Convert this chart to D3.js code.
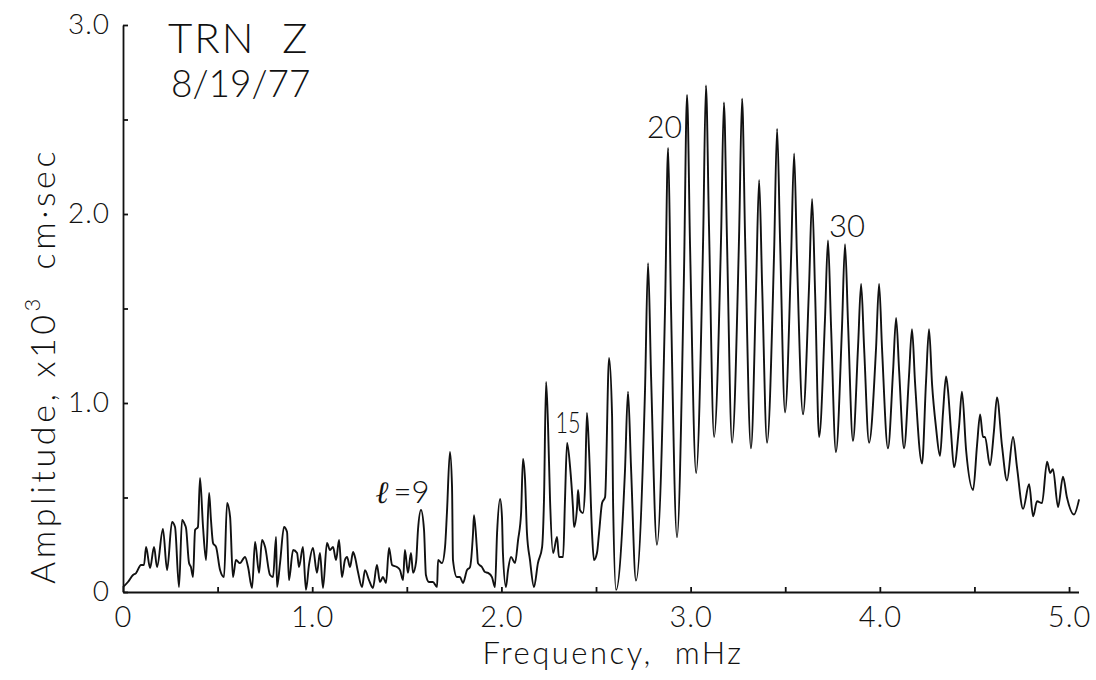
<!DOCTYPE html>
<html>
<head>
<meta charset="utf-8">
<script src="https://cdn.jsdelivr.net/npm/d3@7"></script>
<style>
  html, body { margin: 0; padding: 0; background: #fff; }
  svg { display: block; }
  text { font-family: Lato, "Open Sans", "DejaVu Sans", sans-serif; font-weight: 300; fill: #111; white-space: pre; }
</style>
</head>
<body>
<svg id="chart" width="1096" height="680"></svg>
<script>
// ---- data (frequency in mHz, amplitude in 10^3 cm·sec) ----
const freq = [
  0.000,0.026,0.053,0.069,0.095,0.111,0.122,0.143,0.164,0.180,0.211,0.233,0.259,0.275,0.296,0.312,0.328,0.333,
  0.349,0.359,0.370,0.381,0.396,0.407,0.423,0.439,0.455,0.465,0.476,0.492,0.513,0.534,0.550,0.566,0.581,0.597,
  0.618,0.645,0.661,0.682,0.698,0.719,0.735,0.751,0.777,0.793,0.809,0.814,0.830,0.851,0.867,0.877,0.899,0.920,
  0.930,0.951,0.967,0.983,1.004,1.025,1.041,1.057,1.078,1.094,1.110,1.126,1.142,1.157,1.173,1.184,1.200,1.216,
  1.226,1.242,1.263,1.279,1.300,1.321,1.342,1.358,1.374,1.390,1.406,1.422,1.448,1.464,1.480,1.490,1.506,1.522,
  1.533,1.549,1.559,1.575,1.591,1.601,1.617,1.638,1.660,1.665,1.686,1.702,1.712,1.728,1.739,1.744,1.765,1.781,
  1.797,1.818,1.834,1.850,1.855,1.871,1.876,1.897,1.913,1.929,1.950,1.966,1.977,1.993,2.003,2.008,2.024,2.035,
  2.051,2.072,2.088,2.104,2.114,2.125,2.135,2.151,2.172,2.193,2.215,2.225,2.236,2.246,2.257,2.273,2.294,2.304,
  2.326,2.336,2.347,2.363,2.378,2.384,2.400,2.405,2.415,2.431,2.442,2.452,2.463,2.479,2.489,2.505,2.516,2.532,
  2.548,2.569,2.585,2.590,2.606,
  2.653,2.669,2.685,2.711,2.759,2.775,2.791,2.822,2.865,2.881,2.896,2.928,2.965,2.981,2.997,3.029,
  3.066,3.081,3.097,3.124,3.161,3.176,3.192,3.219,3.256,3.272,3.288,3.319,3.346,3.362,3.378,3.404,
  3.441,3.457,3.473,3.499,3.531,3.547,3.562,3.594,3.626,3.642,3.658,3.679,3.710,3.726,3.742,3.768,
  3.800,3.816,3.832,3.858,3.885,3.901,3.917,3.943,3.980,3.996,4.012,4.043,4.070,4.086,4.102,4.128,
  4.154,4.170,4.186,4.223,4.244,4.260,4.276,4.297,4.318,4.334,4.350,4.360,4.376,4.392,4.419,4.434,
  4.456,4.493,4.514,4.530,4.545,4.556,4.582,4.603,4.619,4.646,4.672,4.704,4.725,4.757,4.789,4.810,
  4.831,4.857,4.884,4.900,4.915,4.942,4.968,4.989,5.026,5.053
];
const amplitude = [
  0.026,0.053,0.090,0.100,0.143,0.143,0.238,0.127,0.238,0.132,0.333,0.116,0.370,0.344,0.026,0.381,0.354,0.339,
  0.153,0.132,0.079,0.328,0.344,0.603,0.344,0.169,0.524,0.381,0.259,0.238,0.116,0.079,0.471,0.397,0.079,0.169,
  0.153,0.185,0.132,0.021,0.265,0.101,0.275,0.238,0.090,0.079,0.291,0.026,0.153,0.344,0.317,0.063,0.222,0.206,
  0.132,0.238,0.011,0.143,0.233,0.101,0.206,0.021,0.259,0.222,0.238,0.169,0.275,0.079,0.169,0.185,0.132,0.212,
  0.185,0.106,0.026,0.116,0.063,0.021,0.143,0.053,0.079,0.048,0.233,0.143,0.132,0.116,0.063,0.222,0.101,0.206,
  0.101,0.159,0.328,0.434,0.328,0.090,0.053,0.053,0.026,0.169,0.153,0.238,0.418,0.741,0.556,0.169,0.079,0.079,
  0.048,0.116,0.132,0.312,0.407,0.222,0.153,0.132,0.106,0.101,0.079,0.026,0.312,0.492,0.397,0.206,0.026,0.116,
  0.185,0.153,0.275,0.418,0.704,0.593,0.312,0.169,0.026,0.153,0.238,0.487,1.111,0.894,0.487,0.206,0.291,0.185,
  0.185,0.487,0.788,0.661,0.450,0.344,0.450,0.540,0.434,0.418,0.556,0.947,0.751,0.312,0.169,0.206,0.312,0.471,
  0.503,1.238,0.926,0.487,0.011,
  0.64,1.06,0.66,0.06,1.07,1.74,1.14,0.25,1.51,2.35,1.53,0.29,1.69,2.63,1.83,0.63,
  1.86,2.68,1.94,0.82,1.88,2.59,1.87,0.79,1.88,2.61,1.87,0.76,1.61,2.18,1.62,0.79,
  1.79,2.45,1.85,0.95,1.77,2.32,1.77,0.94,1.62,2.08,1.58,0.82,1.44,1.86,1.41,0.74,
  1.40,1.84,1.42,0.80,1.30,1.63,1.29,0.79,1.29,1.63,1.28,0.76,1.17,1.45,1.17,0.76,
  1.14,1.39,1.11,0.68,1.11,1.39,1.10,0.87,0.72,0.95,1.14,1.07,0.85,0.66,0.88,1.06,
  0.75,0.54,0.78,0.94,0.82,0.82,0.67,0.85,1.03,0.77,0.59,0.82,0.66,0.44,0.57,0.40,
  0.48,0.47,0.69,0.63,0.65,0.45,0.61,0.50,0.41,0.49
];
const xTicks = [0,0.5,1,1.5,2,2.5,3,3.5,4,4.5,5];
const xTickLabels = ["0","","1.0","","2.0","","3.0","","4.0","","5.0"];
const yTicks = [0,0.5,1,1.5,2,2.5,3];
const yTickLabels = ["0","","1.0","","2.0","","3.0"];
const annotations = [
  { text: "15", f: 2.352, a: 0.84, size: 29, w: 25 },
  { text: "20", f: 2.862, a: 2.40, size: 31, w: 35 },
  { text: "30", f: 3.827, a: 1.88, size: 31, w: 36 }
];

// ---- drawing ----
const svg = d3.select("#chart");
const x = d3.scaleLinear().domain([0, 5.05]).range([123, 1078.5]);
const y = d3.scaleLinear().domain([0, 3]).range([592, 25]);
const FONT = "Lato, 'Open Sans', sans-serif";

const xAxis = d3.axisBottom(x)
  .tickValues(xTicks)
  .tickFormat((d, i) => xTickLabels[i])
  .tickSizeInner(-5).tickSizeOuter(0).tickPadding(15);
const gx = svg.append("g").attr("transform", "translate(0,592)").call(xAxis);
gx.selectAll("text").attr("font-size", 29).attr("dy", "0.7em").attr("letter-spacing", 1)
  .style("font-family", FONT).style("font-weight", 300).attr("fill", "#111");

const yAxis = d3.axisLeft(y)
  .tickValues(yTicks)
  .tickFormat((d, i) => yTickLabels[i])
  .tickSizeInner(-5).tickSizeOuter(0).tickPadding(13);
const gy = svg.append("g").attr("transform", "translate(123,0)").call(yAxis);
gy.selectAll("text").attr("font-size", 28).attr("letter-spacing", 1)
  .style("font-family", FONT).style("font-weight", 300).attr("fill", "#111");

svg.selectAll(".domain, .tick line").attr("stroke", "#111").attr("stroke-width", 1.8);

// spectrum line
const pts = freq.map((f, i) => [f, amplitude[i]]);
const line = d3.line().x(d => x(d[0])).y(d => y(d[1])).curve(d3.curveMonotoneX);
svg.append("path").datum(pts)
  .attr("d", line)
  .attr("fill", "none")
  .attr("stroke", "#111")
  .attr("stroke-width", 1.9)
  .attr("stroke-linejoin", "round");

// annotations (centred over their peaks)
svg.selectAll("text.ann").data(annotations).enter().append("text")
  .attr("class", "ann")
  .attr("x", d => x(d.f)).attr("y", d => y(d.a))
  .attr("text-anchor", "middle")
  .attr("font-size", d => d.size)
  .attr("textLength", d => d.w)
  .attr("lengthAdjust", "spacingAndGlyphs")
  .text(d => d.text);

const l9 = svg.append("text").attr("x", x(1.335)).attr("y", y(0.47)).attr("font-size", 31);
l9.append("tspan").text("ℓ").style("font-family", "'DejaVu Serif', serif").style("font-style", "italic");
l9.append("tspan").text("=9").attr("dx", 5);

// title
svg.append("text").attr("x", 168).attr("y", 53).attr("font-size", 42).attr("letter-spacing", 2).text("TRN  Z");
svg.append("text").attr("x", 171).attr("y", 97).attr("font-size", 37).text("8/19/77");

// axis titles
svg.append("text").attr("x", 613).attr("y", 664).attr("text-anchor", "middle")
  .attr("font-size", 31).attr("letter-spacing", 2.5).text("Frequency,  mHz");

const yt = svg.append("text")
  .attr("transform", "translate(55,366) rotate(-90)")
  .attr("text-anchor", "middle").attr("font-size", 34).attr("letter-spacing", 3.6);
yt.append("tspan").text("Amplitude, x10");
yt.append("tspan").text("3").attr("font-size", 22).attr("dy", -15);
yt.append("tspan").text("  cm·sec").attr("dy", 15);
</script>
</body>
</html>
